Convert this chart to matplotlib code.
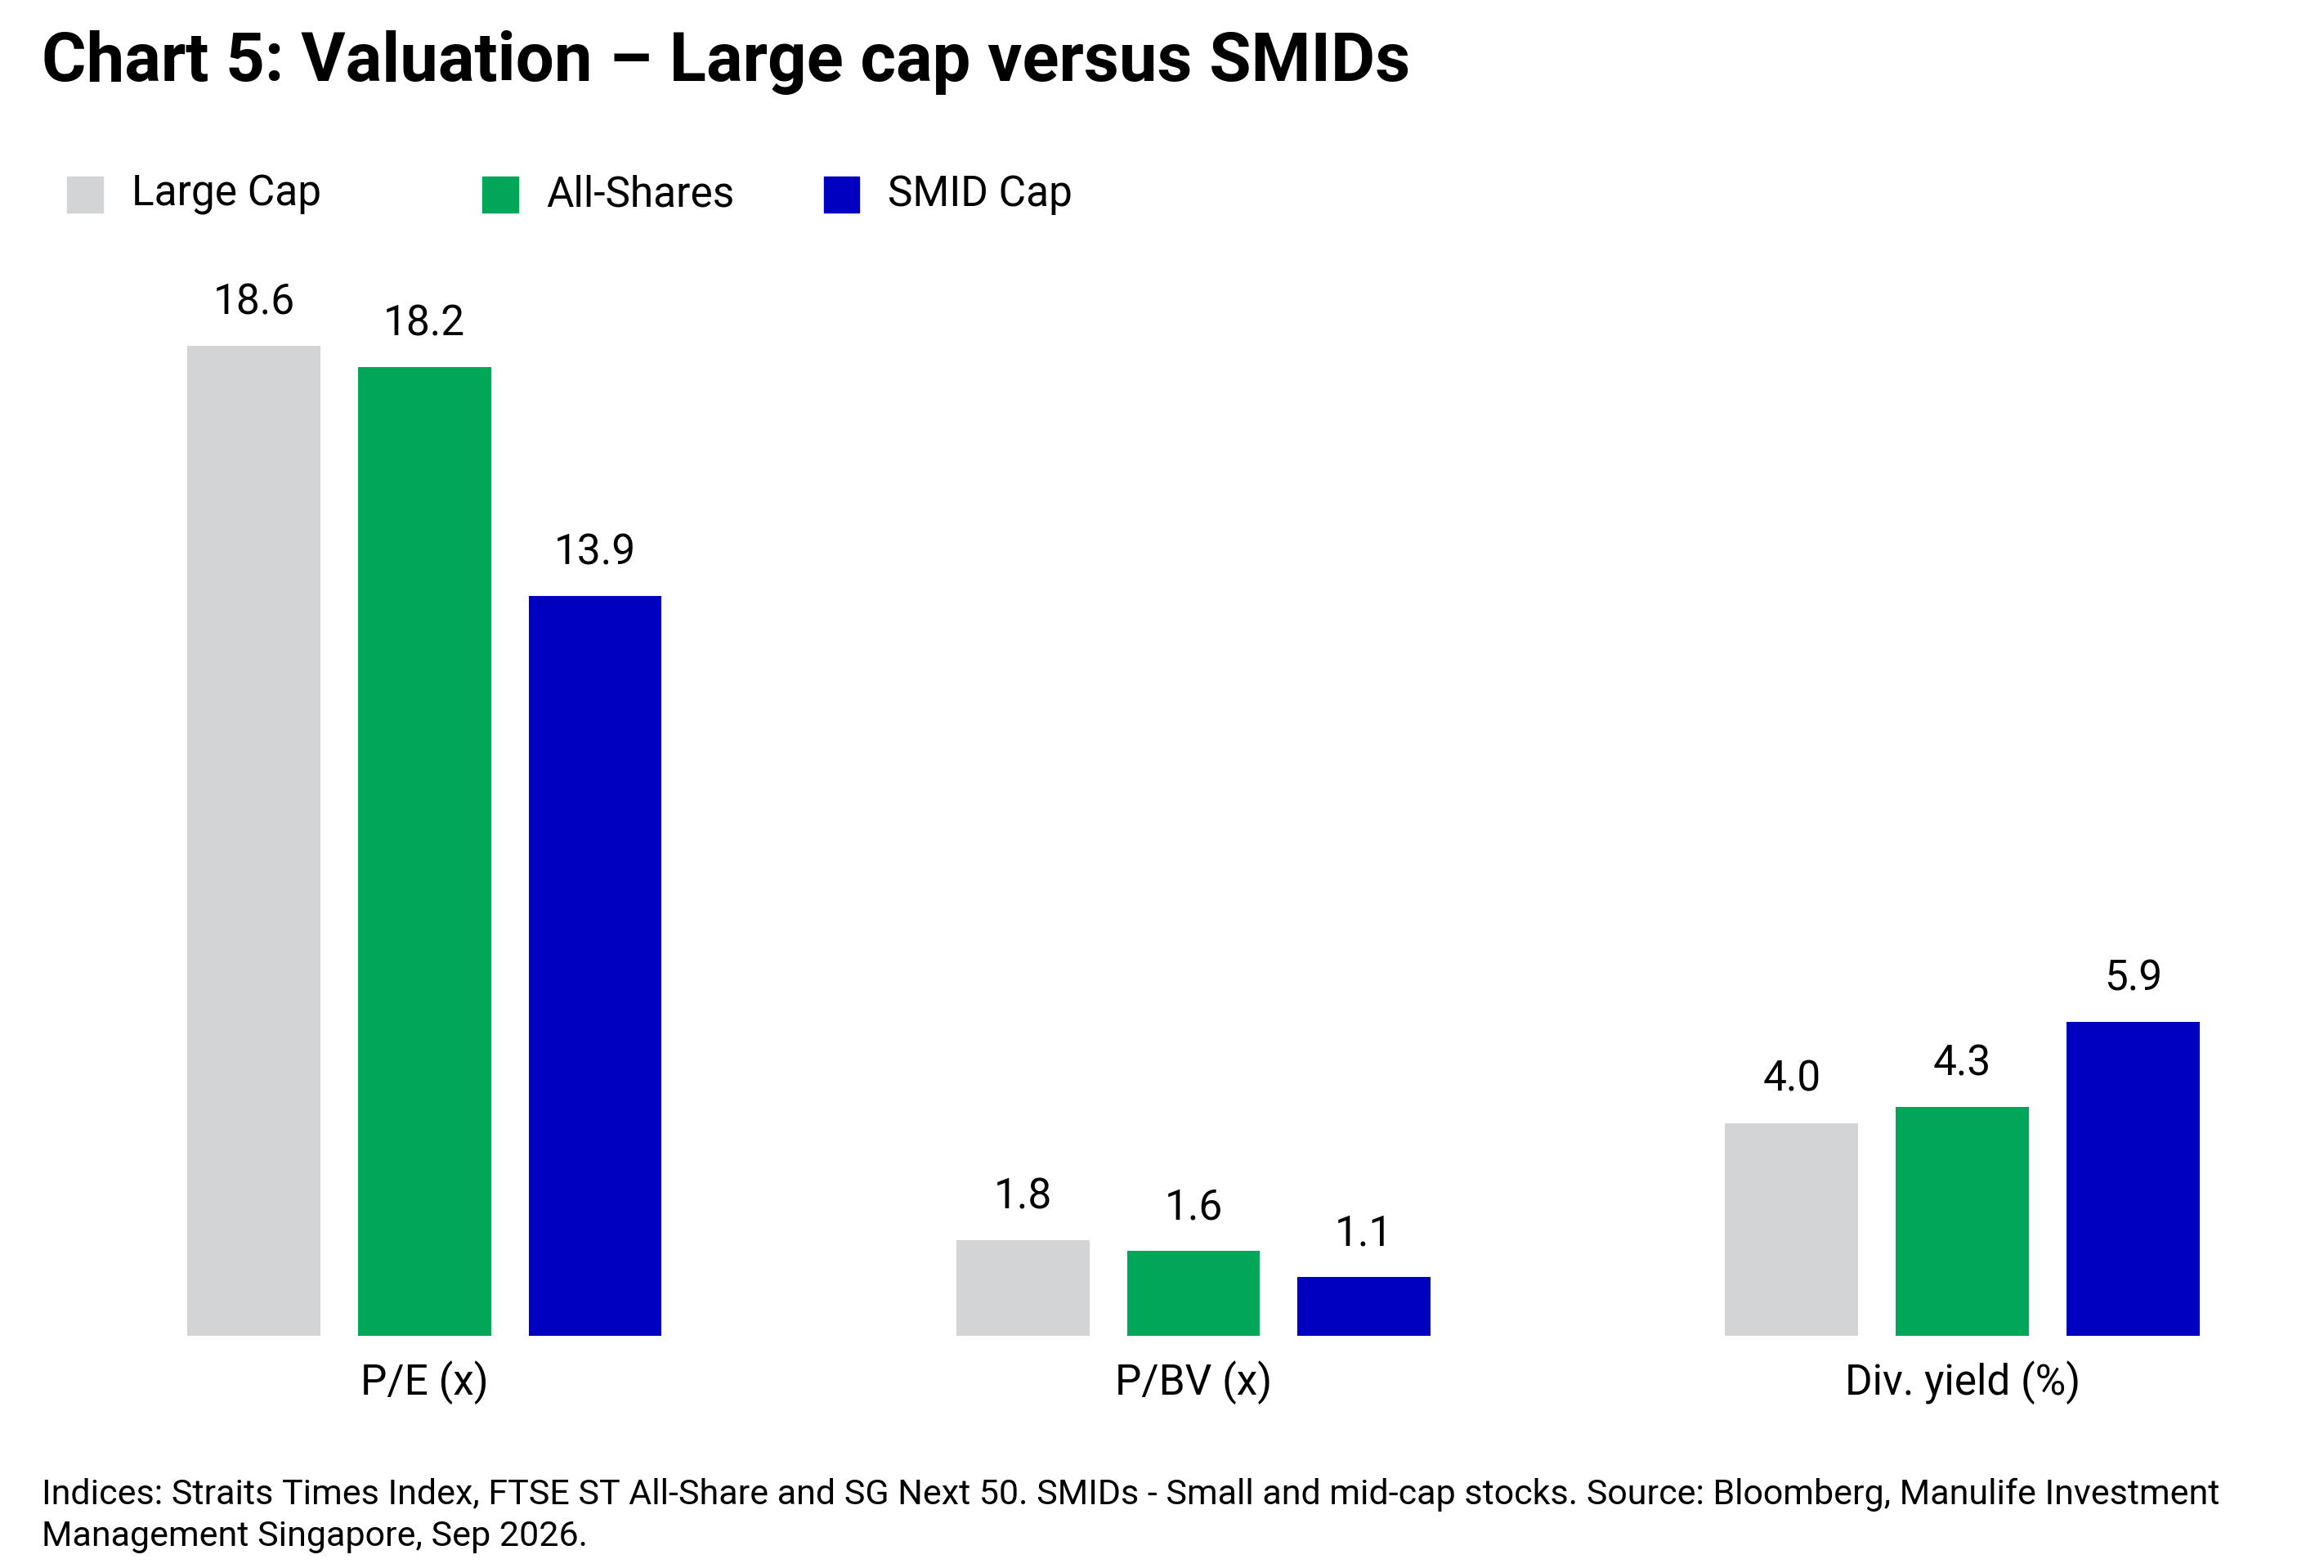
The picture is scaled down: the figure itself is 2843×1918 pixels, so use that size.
import matplotlib
matplotlib.use("Agg")
import matplotlib.pyplot as plt
from matplotlib.patches import Rectangle
import numpy as np

categories = ["P/E (x)", "P/BV (x)", "Div. yield (%)"]
series_names = ["Large Cap", "All-Shares", "SMID Cap"]
large_cap = [18.6, 1.8, 4.0]
all_shares = [18.2, 1.6, 4.3]
smid_cap = [13.9, 1.1, 5.9]
colors = ["#D3D4D6", "#00A758", "#0000C1"]

title = "Chart 5: Valuation \u2013 Large cap versus SMIDs"
footnote = ("Indices: Straits Times Index, FTSE ST All-Share and SG Next 50. SMIDs - Small and mid-cap stocks. "
            "Source: Bloomberg, Manulife Investment\nManagement Singapore, Sep 2026.")

FONT = ["Liberation Sans Narrow", "Roboto", "DejaVu Sans"]
plt.rcParams["font.family"] = FONT

W, H = 1552, 1047  # layout measured on a scaled reference
fig = plt.figure(figsize=(28.43, 19.18), dpi=100)

ax = fig.add_axes([52.4 / W, 1 - 892 / H, 1489.2 / W, (892 - 160) / H])
x = np.arange(len(categories))
width = 0.173
offset = 0.222
for i, (vals, c) in enumerate(zip([large_cap, all_shares, smid_cap], colors)):
    bars = ax.bar(x + (i - 1) * offset, vals, width=width, color=c)
    for b, v in zip(bars, vals):
        ax.annotate(f"{v:.1f}", (b.get_x() + b.get_width() / 2, v),
                    xytext=(0, 20), textcoords="offset points",
                    ha="center", va="bottom", fontsize=37)

ax.set_xlim(-0.45, 2.45)
ax.set_ylim(0, (892 - 160) / 35.54)
ax.set_xticks(x)
ax.set_xticklabels(categories, fontsize=37)
ax.tick_params(axis="x", length=0, pad=22)
ax.set_yticks([])
for s in ax.spines.values():
    s.set_visible(False)

fig.text(28 / W, 1 - 42 / H, title, fontsize=60, fontweight="bold", va="center", ha="left")

# legend
legend_x = [45, 322, 550]
for lx, name, c in zip(legend_x, series_names, colors):
    fig.patches.append(Rectangle((lx / W, 1 - 142 / H), 24 / W, 24 / H, color=c,
                                 transform=fig.transFigure, figure=fig))
    fig.text((lx + 43) / W, 1 - 130 / H, name, fontsize=37, va="center", ha="left")

fig.text(28 / W, 1 - 1012 / H, footnote, fontsize=31, va="center", ha="left", linespacing=1.3)

fig.savefig("out.png", dpi=100, facecolor="white")
